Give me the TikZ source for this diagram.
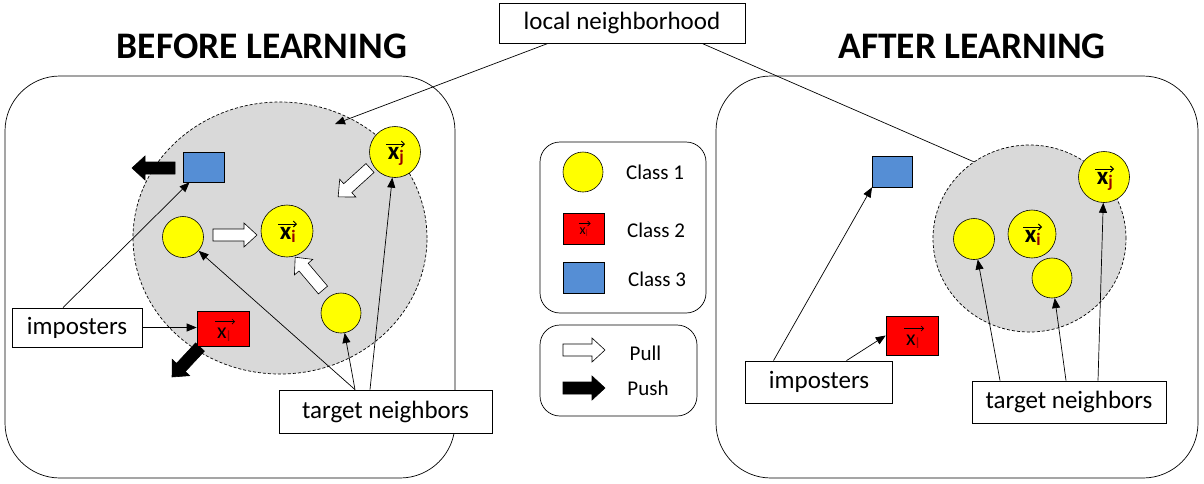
\documentclass[tikz,border=0pt]{standalone}
\usepackage{fontspec}
\setmainfont{Carlito}
\usetikzlibrary{arrows.meta,shapes.geometric}
\definecolor{nbgray}{RGB}{217,217,217}
\definecolor{cyel}{RGB}{255,255,0}
\definecolor{cblue}{RGB}{85,142,213}
\definecolor{cred}{RGB}{255,0,0}
\definecolor{subred}{RGB}{150,0,0}
% block arrow: #1 fill, #2 x, #3 y (tail), #4 angle, #5 length
\newcommand\blockarr[5]{%
  \draw[fill=#1, line width=0.6pt, shift={(#2,#3)}, rotate=#4]
    (0,-6) -- ({#5-13},-6) -- ({#5-13},-12) -- (#5,0) -- ({#5-13},12) -- ({#5-13},6) -- (0,6) -- cycle;}
\newcommand\vb[1]{\textbf{x}\textcolor{subred}{\textsubscript{\textbf{#1}}}}
\newcommand\vl{x\textcolor{subred}{\textsubscript{l}}}
\begin{document}
\begin{tikzpicture}[x=1pt,y=-1pt,
  title/.style={font=\fontsize{37.5}{44}\selectfont\bfseries, inner sep=0},
  lbl/.style={draw, fill=white, line width=0.8pt, font=\fontsize{25}{30}\selectfont, inner sep=0},
  panel/.style={draw, line width=0.7pt, rounded corners=55pt, inner sep=0},
  nbhd/.style={ellipse, draw, dash pattern=on 3pt off 2pt, fill=nbgray, line width=0.7pt, inner sep=0},
  pt/.style={circle, draw, fill=cyel, line width=0.6pt, inner sep=0},
  sqb/.style={draw, fill=cblue, line width=0.6pt, inner sep=0},
  sqr/.style={draw, fill=cred, line width=0.6pt, inner sep=0},
  vtext/.style={anchor=base, inner sep=0, font=\fontsize{25}{30}\selectfont},
  ltext/.style={anchor=base, inner sep=0, font=\fontsize{22}{26}\selectfont},
  stext/.style={anchor=base, inner sep=0, font=\fontsize{14}{16}\selectfont},
  vecarr/.style={line width=1pt, -{Straight Barb[length=3pt,width=6pt]}},
  svecarr/.style={line width=0.7pt, -{Straight Barb[length=2.5pt,width=5pt]}},
  conn/.style={line width=0.7pt, -{Triangle[length=10pt,width=8pt]}},
  plainconn/.style={line width=0.7pt},
  legtext/.style={font=\fontsize{21}{25}\selectfont, inner sep=0},
  legbox/.style={draw, line width=0.7pt, rounded corners=20pt, inner sep=0}]
\useasboundingbox (0,0) rectangle (1204,483);
\fill[white] (0,0) rectangle (1204,483);

% titles
\node[title] (tb) at (262,46) {BEFORE LEARNING};
\node[title] (ta) at (972,46) {AFTER LEARNING};

% panels
\node[panel, minimum width=450, minimum height=402] (pl) at (230,277) {};
\node[panel, minimum width=482, minimum height=402] (pr) at (957,277) {};

% neighbourhoods
\node[nbhd, minimum width=294, minimum height=272] (cl) at (280,238) {};
\node[nbhd, minimum width=193, minimum height=187] (cr) at (1029.5,238.5) {};

% ---- left panel ----
\blockarr{black}{175}{168}{180}{43}
\blockarr{white}{213}{235}{0}{44}
\blockarr{white}{370}{168}{-137.8}{43}
\blockarr{white}{323}{290}{130.3}{43}
\blockarr{black}{200}{347}{-133}{41}
\node[sqb, minimum width=41, minimum height=30] (bl) at (203.5,167) {};
\node[pt, minimum size=41] (c1l) at (183,237) {};
\node[pt, minimum size=52] (xi1) at (287,231) {};
\node[vtext] (xi1t) at ([shift={(1,8)}]xi1.center) {\vb{i}};
\draw[vecarr] ([shift={(-9,-7)}]xi1.center) -- ([shift={(10,-7)}]xi1.center);
\node[pt, minimum size=51] (xj1) at (395,152) {};
\node[vtext] (xj1t) at ([shift={(1,7)}]xj1.center) {\vb{j}};
\draw[vecarr] ([shift={(-9,-8)}]xj1.center) -- ([shift={(10,-8)}]xj1.center);
\node[pt, minimum size=40] (c1b) at (341,313) {};
\node[sqr, minimum width=52, minimum height=35] (rl) at (223,328.5) {};
\node[ltext] (rlt) at ([shift={(1,9.5)}]rl.center) {\vl};
\draw[svecarr] ([shift={(-8,-7)}]rl.center) -- ([shift={(12,-7)}]rl.center);
\node[lbl, minimum width=130, minimum height=39] (imp1) at (77,327.5) {imposters};
\node[lbl, minimum width=213, minimum height=43] (tn1) at (385.5,411.5) {target neighbors};

% ---- legend ----
\node[legbox, minimum width=166, minimum height=171] (lg1) at (623,227.5) {};
\node[pt, minimum size=40] (lgc) at (583,172) {};
\node[legtext] (lgt1) at (655,172) {Class 1};
\node[sqr, minimum width=41, minimum height=31] (lgr) at (583.5,228.5) {};
\node[stext] (lgrt) at ([shift={(0.5,6)}]lgr.center) {\vl};
\draw[svecarr] ([shift={(-5,-5)}]lgr.center) -- ([shift={(7,-5)}]lgr.center);
\node[legtext] (lgt2) at (656,230) {Class 2};
\node[sqb, minimum width=41, minimum height=31] (lgb) at (583.5,277.5) {};
\node[legtext] (lgt3) at (657,279) {Class 3};
\node[legbox, minimum width=157, minimum height=91] (lg2) at (618.5,370.5) {};
\blockarr{white}{563}{350}{0}{42}
\blockarr{black}{563}{388}{0}{42}
\node[legtext] (lgpull) at (645.5,353) {Pull};
\node[legtext] (lgpush) at (648,388) {Push};

% ---- right panel ----
\node[sqb, minimum width=40, minimum height=31] (br) at (892,171.5) {};
\node[sqr, minimum width=52, minimum height=39] (rr) at (912,335.5) {};
\node[ltext] (rrt) at ([shift={(1,9.5)}]rr.center) {\vl};
\draw[svecarr] ([shift={(-8,-7)}]rr.center) -- ([shift={(12,-7)}]rr.center);
\node[pt, minimum size=51] (xj2) at (1104,177) {};
\node[vtext] (xj2t) at ([shift={(1,7)}]xj2.center) {\vb{j}};
\draw[vecarr] ([shift={(-9,-8)}]xj2.center) -- ([shift={(10,-8)}]xj2.center);
\node[pt, minimum size=48] (xi2) at (1032,234) {};
\node[vtext] (xi2t) at ([shift={(1,8)}]xi2.center) {\vb{i}};
\draw[vecarr] ([shift={(-9,-7)}]xi2.center) -- ([shift={(10,-7)}]xi2.center);
\node[pt, minimum size=41] (c2l) at (974,239) {};
\node[pt, minimum size=40] (c2b) at (1052,278) {};
\node[lbl, minimum width=147, minimum height=42] (imp2) at (819,382) {imposters};
\node[lbl, minimum width=194, minimum height=42] (tn2) at (1069,402) {target neighbors};

% local neighbourhood label
\node[lbl, minimum width=246, minimum height=40] (ln) at (622,23) {local neighborhood};
\coordinate (lnl) at (335,124);

% connectors
\draw[conn] ([xshift=-74]ln.south) -- (lnl);
\draw[plainconn] ([xshift=80]ln.south) -- (cr.126);

\draw[conn] ([xshift=-14]imp1.north) -- ([xshift=-14]bl.south);
\draw[conn] (imp1.east) -- (imp1.east -| rl.west);
\draw[conn] ([xshift=-30.5]tn1.north) -- (c1l);
\draw[conn] ([xshift=-30.5]tn1.north) -- (c1b);
\draw[conn] ([xshift=-15.5]tn1.north) -- (xj1);

\draw[conn] ([xshift=-45.5]imp2.north) -- ([xshift=-20]br.south);
\draw[conn] ([xshift=27.5]imp2.north) -- (rr.west);
\draw[conn] ([xshift=-69]tn2.north) -- (c2l);
\draw[conn] ([xshift=-3]tn2.north) -- (c2b);
\draw[conn] ([xshift=29]tn2.north) -- (xj2);
\end{tikzpicture}
\end{document}
